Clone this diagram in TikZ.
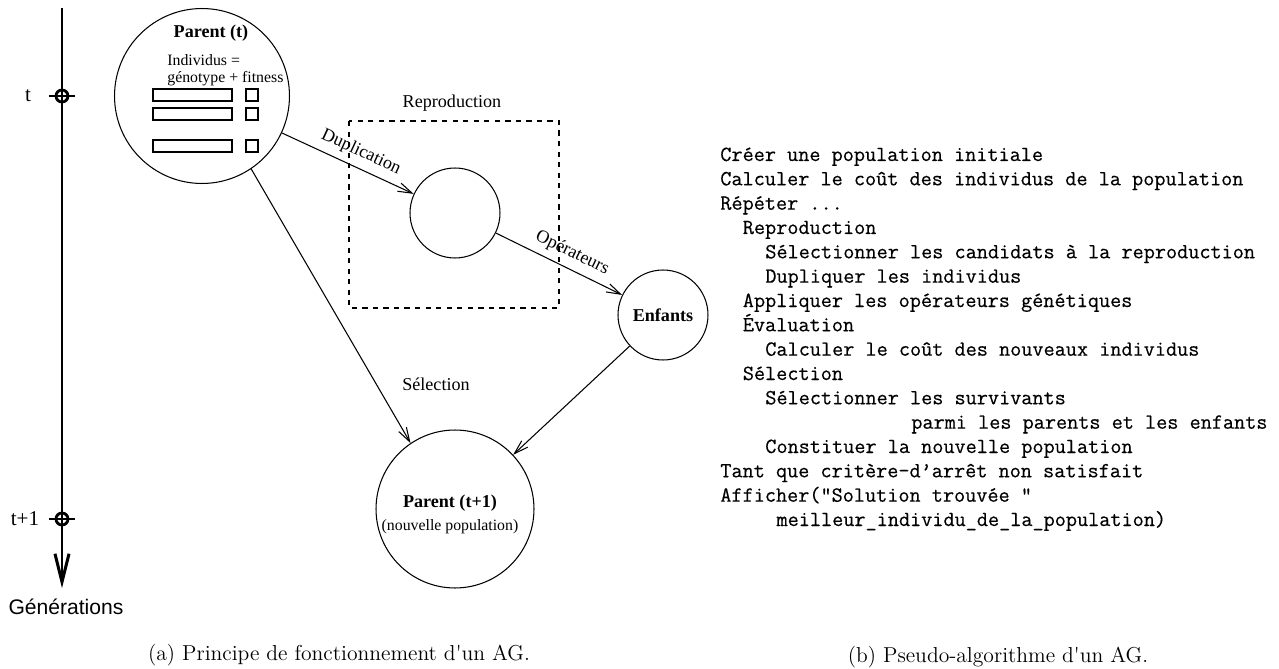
\documentclass[tikz,border=0pt]{standalone}
\usepackage{fontspec}
\newfontfamily\timesfont{Liberation Serif}
\newfontfamily\helvfont{Liberation Sans}
\newfontfamily\codefont{lmmono12-regular.otf}[FakeBold=0.4]
\newfontfamily\capfont{lmroman12-regular.otf}
\usetikzlibrary{arrows.meta}

\begin{document}
\begin{tikzpicture}[x=0.02cm,y=-0.02cm,
	popu/.style={shape=circle,draw=black,line width=0.6pt,inner sep=0pt},
	lbl/.style={inner sep=1pt,font=\timesfont\fontsize{10.3}{12}\selectfont},
	smalllbl/.style={inner sep=0pt,font=\timesfont\fontsize{9}{11}\selectfont},
	boldlbl/.style={font=\timesfont\bfseries\fontsize{10.3}{12}\selectfont},
	fleche/.style={line width=0.6pt,-{Straight Barb[length=8pt,width=5pt]}},
	gene/.style={draw=black,line width=0.6pt,inner sep=0pt,minimum height=0.24cm},
	axe/.style={line width=1.7pt},
	repere/.style={shape=circle,draw=black,line width=1.6pt,minimum size=0.24cm,inner sep=0pt},
	code/.style={anchor=base west,inner sep=0pt,font=\codefont\fontsize{12.3}{13.8}\selectfont},
	legende/.style={font=\capfont\fontsize{12.3}{14}\selectfont}]
	\useasboundingbox (0,0) rectangle (1279,669);

	% axe des generations
	\coordinate (haut) at (62,8);
	\coordinate (bas) at (62,588);
	\draw[axe,-{Straight Barb[length=16pt,width=8pt]}] (haut) -- (bas);
	\node[repere] (rt) at (62,96) {};
	\node[repere] (rtb) at (62,519) {};
	\draw[axe] ([xshift=-7.5pt]rt.center) -- ([xshift=7.5pt]rt.center);
	\draw[axe] ([xshift=-7.5pt]rtb.center) -- ([xshift=7.5pt]rtb.center);
	\node[font=\timesfont\fontsize{12}{14}\selectfont] (lt) at (28,96) {t};
	\node[font=\timesfont\fontsize{12}{14}\selectfont] (ltb) at (25,519) {t+1};
	\node[font=\helvfont\fontsize{12}{14}\selectfont] (gen) at (66,607) {Générations};

	% parents
	\node[popu,minimum size=3.5cm] (parent) at (202,96) {};
	\node[boldlbl] (ptitre) at (211,33) {Parent (t)};
	\node[smalllbl,anchor=west] (indiv) at (167,60) {Individus =};
	\node[smalllbl,anchor=west] (genfit) at (167,79) {génotype + fitness};
	\node[gene,minimum width=1.58cm] (ga) at (192.5,95) {};
	\node[gene,minimum width=0.24cm] (fa) at (252,95) {};
	\node[gene,minimum width=1.58cm] (gb) at (192.5,114) {};
	\node[gene,minimum width=0.24cm] (fb) at (252,114) {};
	\node[gene,minimum width=1.58cm] (gc) at (192.5,146) {};
	\node[gene,minimum width=0.24cm] (fc) at (252,146) {};

	% reproduction
	\draw[dashed,line width=0.6pt] (349,121) rectangle (559,308);
	\node[lbl] (repro) at (452,103) {Reproduction};
	\node[popu,minimum size=1.8cm] (dupl) at (455,213) {};
	\node[popu,boldlbl,minimum size=1.8cm] (enfants) at (663,315) {Enfants};

	% nouvelle population
	\node[popu,minimum size=3.16cm] (parentb) at (455,509) {};
	\node[boldlbl] (pbtitre) at (450,503) {Parent (t+1)};
	\node[smalllbl] (nouv) at (450,527) {(nouvelle population)};
	\node[lbl] (selec) at (436,384) {Sélection};

	\draw[fleche] (parent) -- node[lbl,sloped,above=3pt,pos=0.55] {Duplication} (dupl);
	\draw[fleche] (dupl) -- node[lbl,sloped,above=3pt,pos=0.55] {Opérateurs} (enfants);
	\draw[fleche] (parent.-56) -- (parentb.124);
	\draw[fleche] (enfants) -- (parentb);

	% pseudo-algorithme
	\node[code] (ca) at (720,161) {Créer une population initiale};
	\node[code] (cb) at (720,185.3) {Calculer le coût des individus de la population};
	\node[code] (cc) at (720,209.7) {Répéter ...};
	\node[code] (cd) at (742.5,234) {Reproduction};
	\node[code] (ce) at (765,258.3) {Sélectionner les candidats à la reproduction};
	\node[code] (cf) at (765,282.7) {Dupliquer les individus};
	\node[code] (cg) at (742.5,307) {Appliquer les opérateurs génétiques};
	\node[code] (ch) at (742.5,331.3) {Évaluation};
	\node[code] (ci) at (765,355.7) {Calculer le coût des nouveaux individus};
	\node[code] (cj) at (742.5,380) {Sélection};
	\node[code] (ck) at (765,404.3) {Sélectionner les survivants};
	\node[code] (cl) at (911,428.7) {parmi les parents et les enfants};
	\node[code] (cm) at (765,453) {Constituer la nouvelle population};
	\node[code] (cn) at (720,477.3) {Tant que critère-d’arrêt non satisfait};
	\node[code] (co) at (720,501.7) {Afficher("Solution trouvée "};
	\node[code] (cp) at (776.2,526) {meilleur\_individu\_de\_la\_population)};

	% legendes
	\node[legende] (lega) at (339,655) {(a) Principe de fonctionnement d'un AG.};
	\node[legende] (legb) at (998,657) {(b) Pseudo-algorithme d'un AG.};
\end{tikzpicture}
\end{document}
